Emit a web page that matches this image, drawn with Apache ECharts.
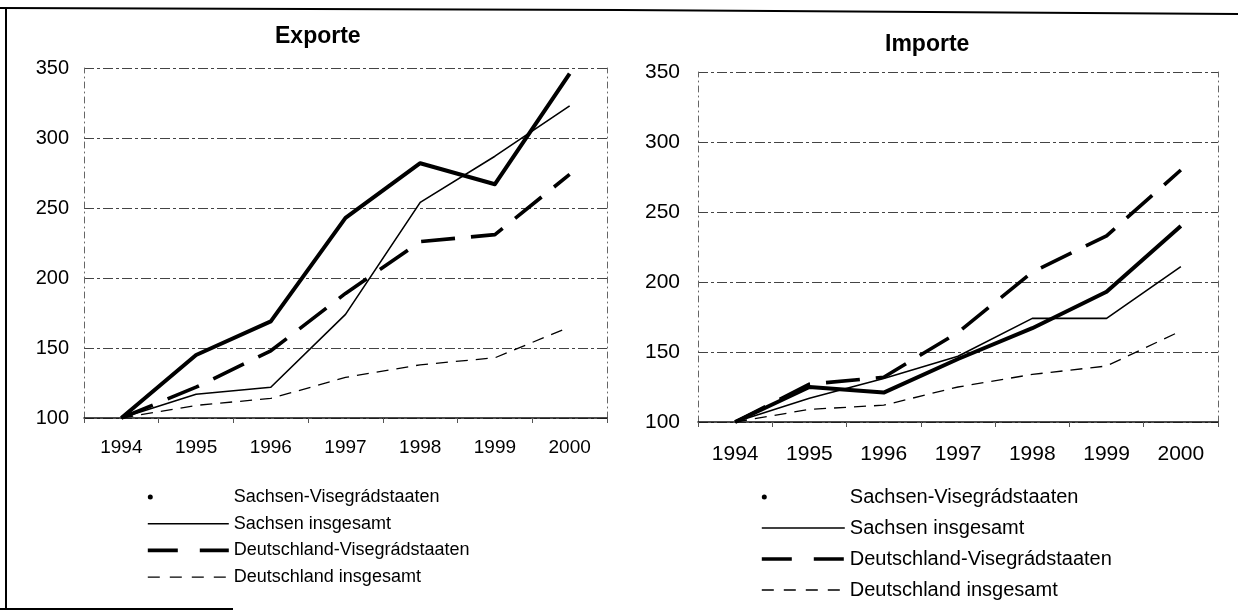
<!DOCTYPE html>
<html><head><meta charset="utf-8">
<script src="https://cdn.jsdelivr.net/npm/echarts@6/dist/echarts.min.js"></script>
<style>html,body{margin:0;padding:0;background:#fff}#c{width:1238px;height:612px}</style>
</head><body><div id="c"></div>
<script>
// ---- data ----
const years = ['1994','1995','1996','1997','1998','1999','2000'];
const seriesNames = ['Sachsen-Visegrádstaaten','Sachsen insgesamt','Deutschland-Visegrádstaaten','Deutschland insgesamt'];
const yTicks = [100, 150, 200, 250, 300, 350];
// Exporte (1994 = 100)
const exSachsenVis   = [100, 145, 169, 243, 282, 267, 346];
const exSachsenGes   = [100, 117, 122, 174, 254, 287, 323];
const exDeutschVis   = [100, 122, 148, 189, 226, 231, 274];
const exDeutschGes   = [100, 109, 114, 129, 138, 143, 165];
// Importe (1994 = 100)
const imSachsenVis   = [100, 125, 121, 145, 167, 193, 240];
const imSachsenGes   = [100, 117, 131, 147, 174, 174, 211];
const imDeutschVis   = [100, 127, 132, 164, 207, 233, 280];
const imDeutschGes   = [100, 109, 112, 125, 134, 140, 165];

// ---- styles ----
const FONT = '"Liberation Sans", Arial, sans-serif';
const lineStyles = [
  {width: 4,   type: 'solid'},
  {width: 1.6, type: 'solid'},
  {width: 3.6, type: [34, 16]},
  {width: 1.3, type: [12, 8]}
];
const gridLine = {color: '#444', width: 1, type: [10, 3, 3, 3]};
const edgeLine = {color: '#666', width: 1, type: [6, 4, 1, 4]};

const chart = echarts.init(document.getElementById('c'), null, {renderer: 'canvas'});

function xAx(gi, fs, margin) {
  return {
    type: 'category', gridIndex: gi, data: years, boundaryGap: true,
    axisLine: {show: true, lineStyle: {color: '#111', width: 1.5}},
    axisTick: {show: true, alignWithLabel: false, length: 5, lineStyle: {color: '#555'}},
    axisLabel: {fontFamily: FONT, fontSize: fs, color: '#000', margin: margin},
    splitLine: {show: false}
  };
}
function yAx(gi, fs, margin) {
  return {
    type: 'value', gridIndex: gi, min: yTicks[0], max: yTicks[yTicks.length - 1], interval: 50,
    axisLine: {show: true, lineStyle: edgeLine},
    axisTick: {show: false},
    axisLabel: {fontFamily: FONT, fontSize: fs, color: '#000', margin: margin},
    splitLine: {show: true, lineStyle: gridLine}
  };
}
function yEdge(gi) {
  return {
    type: 'value', gridIndex: gi, position: 'right', min: yTicks[0], max: yTicks[yTicks.length - 1], interval: 50,
    axisLine: {show: true, lineStyle: edgeLine},
    axisTick: {show: false}, axisLabel: {show: false}, splitLine: {show: false}
  };
}
function ser(name, data, gi, idx) {
  return {
    name: name, type: 'line', xAxisIndex: gi, yAxisIndex: gi, data: data,
    symbol: 'none', smooth: false,
    lineStyle: Object.assign({color: '#000', cap: 'butt', join: 'round'}, lineStyles[idx]),
    z: 10 - idx
  };
}
function legendData(w) {
  return [
    {name: seriesNames[0],
     icon: 'path://M0,2.5a2.5,2.5 0 1,0 5,0a2.5,2.5 0 1,0 -5,0Z M' + w + ',0L' + w + ',5',
     itemStyle: {color: '#000', borderWidth: 0, opacity: 1}},
    {name: seriesNames[1], itemStyle: {opacity: 0, borderWidth: 0},
     lineStyle: {color: '#000', width: 1.6, type: 'solid', opacity: 1}},
    {name: seriesNames[2], itemStyle: {opacity: 0, borderWidth: 0},
     lineStyle: {color: '#000', width: 3.6, type: [30, 22], opacity: 1}},
    {name: seriesNames[3], itemStyle: {opacity: 0, borderWidth: 0},
     lineStyle: {color: '#000', width: 1.3, type: [12, 10], opacity: 1}}
  ];
}

const option = {
  animation: false,
  backgroundColor: '#fff',
  title: [
    {text: 'Exporte', left: 275, top: 25, padding: 0,
     textStyle: {fontFamily: FONT, fontSize: 23, fontWeight: 'bold', color: '#000'}},
    {text: 'Importe', left: 885, top: 33, padding: 0,
     textStyle: {fontFamily: FONT, fontSize: 23, fontWeight: 'bold', color: '#000'}}
  ],
  grid: [
    {left: 84, top: 68, width: 523, height: 350, containLabel: false},
    {left: 698, top: 72, width: 520, height: 350, containLabel: false}
  ],
  xAxis: [xAx(0, 19, 20), xAx(1, 21, 22)],
  yAxis: [yAx(0, 20, 15), yAx(1, 21, 18), yEdge(0), yEdge(1)],
  legend: [
    {orient: 'vertical', left: 146, top: 488, padding: 0, itemGap: 8.7,
     itemWidth: 81, itemHeight: 6, selectedMode: false,
     textStyle: {fontFamily: FONT, fontSize: 18, color: '#000', padding: [0, 0, 0, 0]},
     data: legendData(81)},
    {orient: 'vertical', left: 760, top: 487, padding: 0, itemGap: 11,
     itemWidth: 83, itemHeight: 6, selectedMode: false,
     textStyle: {fontFamily: FONT, fontSize: 20, color: '#000'},
     data: legendData(83)}
  ],
  series: [
    ser(seriesNames[0], exSachsenVis, 0, 0),
    ser(seriesNames[1], exSachsenGes, 0, 1),
    ser(seriesNames[2], exDeutschVis, 0, 2),
    ser(seriesNames[3], exDeutschGes, 0, 3),
    ser(seriesNames[0], imSachsenVis, 1, 0),
    ser(seriesNames[1], imSachsenGes, 1, 1),
    ser(seriesNames[2], imDeutschVis, 1, 2),
    ser(seriesNames[3], imDeutschGes, 1, 3)
  ],
  graphic: [
    {type: 'polyline', silent: true, shape: {points: [[0, 8], [620, 10], [1238, 14]]},
     style: {stroke: '#000', lineWidth: 2, fill: null}},
    {type: 'line', silent: true, shape: {x1: 6, y1: 8, x2: 6, y2: 609},
     style: {stroke: '#000', lineWidth: 2}},
    {type: 'line', silent: true, shape: {x1: 0, y1: 609, x2: 233, y2: 609},
     style: {stroke: '#000', lineWidth: 2}}
  ]
};
chart.setOption(option);
</script>
</body></html>
